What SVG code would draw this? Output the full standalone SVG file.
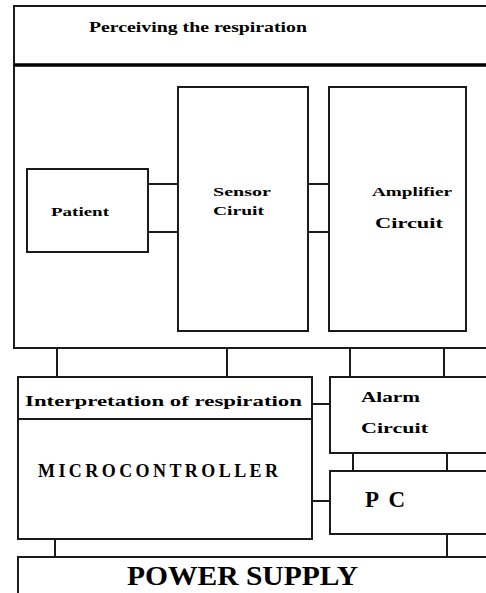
<svg xmlns="http://www.w3.org/2000/svg" width="486" height="593" viewBox="0 0 486 593">
<style>
.b{fill:#fff;stroke:#1a1a1a;stroke-width:2}
.c{stroke:#1a1a1a;stroke-width:2;fill:none}
text{font-family:"Liberation Serif","Times New Roman",serif;font-weight:bold;fill:#000}
</style>
<rect width="486" height="593" fill="#fff"/>
<g id="perceiving">
<rect class="b" x="14" y="6" width="490" height="342"/>
<line x1="14" y1="65" x2="490" y2="65" stroke="#000" stroke-width="3.5"/>
<text x="89" y="32" font-size="15" textLength="218" lengthAdjust="spacingAndGlyphs">Perceiving the respiration</text>
</g>
<g id="connectors">
<path class="c" d="M148 184H178M148 232H178M308 184H329M308 232H329"/>
<path class="c" d="M57 348V377M227 348V377M350 348V377M444 348V377"/>
<path class="c" d="M312 404H330M312 501H330"/>
<path class="c" d="M353 453V471M447 453V471"/>
<path class="c" d="M55 539V557M447 534V557"/>
</g>
<g id="patient">
<rect class="b" x="27" y="169" width="121" height="83"/>
<text x="51" y="216" font-size="13" textLength="58" lengthAdjust="spacingAndGlyphs">Patient</text>
</g>
<g id="sensor">
<rect class="b" x="178" y="87" width="130" height="244"/>
<text x="213" y="196" font-size="13" textLength="58" lengthAdjust="spacingAndGlyphs">Sensor</text>
<text x="213" y="215" font-size="13" textLength="51" lengthAdjust="spacingAndGlyphs">Ciruit</text>
</g>
<g id="amplifier">
<rect class="b" x="329" y="87" width="137" height="244"/>
<text x="372" y="196" font-size="13" textLength="80" lengthAdjust="spacingAndGlyphs">Amplifier</text>
<text x="375" y="228" font-size="15" textLength="68" lengthAdjust="spacingAndGlyphs">Circuit</text>
</g>
<g id="microcontroller">
<rect class="b" x="18" y="377" width="294" height="162"/>
<line class="c" x1="18" y1="419" x2="312" y2="419"/>
<text x="25" y="406" font-size="15" textLength="277" lengthAdjust="spacingAndGlyphs">Interpretation of respiration</text>
<text x="38" y="477" font-size="18" textLength="240" lengthAdjust="spacing">MICROCONTROLLER</text>
</g>
<g id="alarm">
<rect class="b" x="330" y="377" width="170" height="76"/>
<text x="361" y="402" font-size="15" textLength="59" lengthAdjust="spacingAndGlyphs">Alarm</text>
<text x="361" y="433" font-size="15" textLength="67" lengthAdjust="spacingAndGlyphs">Circuit</text>
</g>
<g id="pc">
<rect class="b" x="330" y="471" width="170" height="63"/>
<text x="365" y="507" font-size="23" textLength="40" lengthAdjust="spacing">PC</text>
</g>
<g id="power">
<rect class="b" x="18" y="557" width="490" height="50"/>
<text x="127" y="585" font-size="27" textLength="231" lengthAdjust="spacingAndGlyphs">POWER SUPPLY</text>
</g>
</svg>
